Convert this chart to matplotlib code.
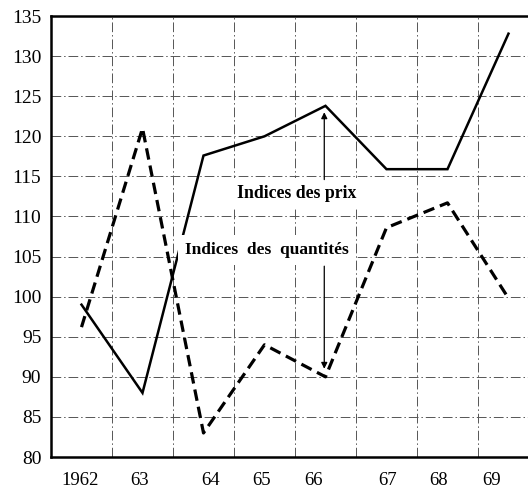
import numpy as np
import matplotlib.pyplot as plt

plt.rcParams['font.family'] = ['Liberation Serif', 'DejaVu Serif']

annees = ["1962", "63", "64", "65", "66", "67", "68", "69"]
prix = [99, 88, 117.6, 120, 123.8, 115.9, 115.9, 132.8]
quantites = [96.2, 121, 83, 94, 90, 108.6, 111.7, 99.8]

# positions of the year labels (they are not quite under the points in the original)
label_pos = [-0.02, 0.96, 2.11, 2.96, 3.81, 5.01, 5.86, 6.73]

x = np.arange(len(annees))

fig = plt.figure(figsize=(5.28, 4.98), dpi=100)
ax = fig.add_axes([0.0966, 0.0823, 0.9034, 0.8855])

ax.plot(x, prix, color='black', lw=1.8, solid_joinstyle='miter', zorder=3)
ax.plot(x, quantites, color='black', lw=2.3, dashes=(3.6, 1.9), zorder=3)

ax.set_xlim(-0.5, 7.32)
ax.set_ylim(80, 135)

ax.set_yticks(np.arange(80, 136, 5))
ax.set_xticks(label_pos)
ax.set_xticklabels(annees)
ax.set_xticks(np.arange(0.5, 7, 1), minor=True)
ax.tick_params(axis='both', which='both', length=0)
ax.tick_params(axis='y', labelsize=14, pad=7)
ax.tick_params(axis='x', labelsize=13.5, pad=11)

grid_style = dict(color='#555555', lw=0.7, linestyle=(0, (10, 3, 1.5, 3)))
ax.grid(axis='y', which='major', **grid_style)
ax.grid(axis='x', which='minor', **grid_style)
ax.grid(axis='x', which='major', visible=False)

for s in ['left', 'bottom', 'top']:
    ax.spines[s].set_linewidth(1.8)
ax.spines['right'].set_visible(False)

box = dict(facecolor='white', edgecolor='none', pad=5)
ax.text(3.52, 112.9, "Indices des prix", ha='center', va='center',
        fontsize=12.8, fontweight='bold', bbox=box, zorder=4)
ax.text(3.04, 105.8, "Indices  des  quantités", ha='center', va='center',
        fontsize=12.5, fontweight='bold', bbox=box, zorder=4)

arrow = dict(arrowstyle='-|>', color='black', lw=0.9, mutation_scale=9,
             shrinkA=0, shrinkB=0)
ax.annotate("", xy=(3.98, 123.0), xytext=(3.98, 114.6), arrowprops=arrow, zorder=4)
ax.annotate("", xy=(3.98, 91.0), xytext=(3.98, 103.8), arrowprops=arrow, zorder=4)

fig.savefig("out.png", dpi=100)
